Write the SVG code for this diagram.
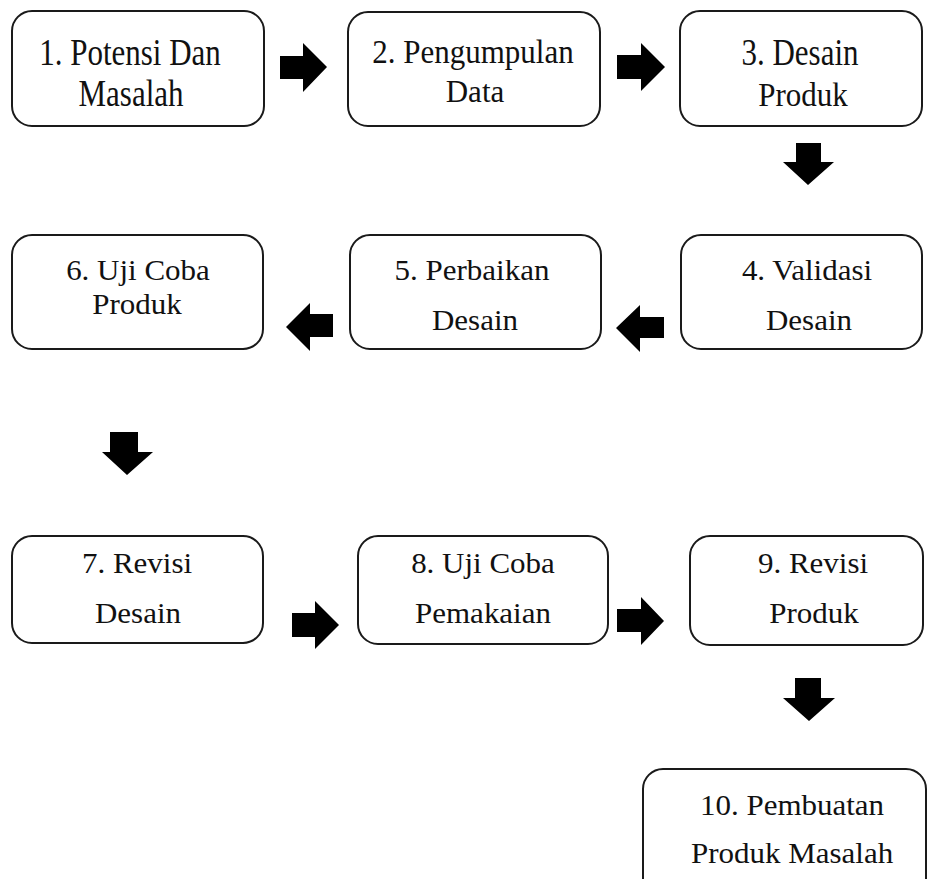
<svg xmlns="http://www.w3.org/2000/svg" width="934" height="879" viewBox="0 0 934 879">
<style>
.box{fill:#fff;stroke:#1a1a1a;stroke-width:2}
.t{font-family:"Liberation Serif","Times New Roman",serif;font-size:31px;fill:#111;text-anchor:middle}
.arr{fill:#000}
</style>
<rect width="934" height="879" fill="#fff"/>
<g id="connectors">
<polygon class="arr" points="280,56 303,56 303,43 327,67 303,92 303,79 280,79"/>
<polygon class="arr" points="617,55 641,55 641,43 665,67 641,91 641,79 617,79"/>
<polygon class="arr" points="796,143 821,143 821,162 834,162 808,185 783,162 796,162"/>
<polygon class="arr" points="664,317 640,317 640,305 616,328 640,352 640,338 664,338"/>
<polygon class="arr" points="333,314 310,314 310,303 286,327 310,351 310,337 333,337"/>
<polygon class="arr" points="110,432 138,432 138,452 153,452 127,475 102,452 110,452"/>
<polygon class="arr" points="292,613 315,613 315,601 339,625 315,649 315,637 292,637"/>
<polygon class="arr" points="617,609 641,609 641,597 664,621 641,645 641,632 617,632"/>
<polygon class="arr" points="795,678 821,678 821,698 835,698 809,721 783,698 795,698"/>
</g>
<g id="n1"><rect class="box" x="12" y="11" width="252" height="115" rx="20"/>
<text class="t" transform="translate(130,65) scale(1,1.2)">1. Potensi Dan</text>
<text class="t" transform="translate(131,106) scale(1,1.2)">Masalah</text></g>
<g id="n2"><rect class="box" x="348" y="12" width="252" height="114" rx="20"/>
<text class="t" transform="translate(473,63) scale(1,1.1)">2. Pengumpulan</text>
<text class="t" transform="translate(475,102)">Data</text></g>
<g id="n3"><rect class="box" x="680" y="11" width="242" height="115" rx="20"/>
<text class="t" transform="translate(800,65) scale(1,1.2)">3. Desain</text>
<text class="t" transform="translate(803,106) scale(1,1.1)">Produk</text></g>
<g id="n4"><rect class="box" x="681" y="235" width="241" height="114" rx="20"/>
<text class="t" transform="translate(807,280) scale(1,0.95)">4. Validasi</text>
<text class="t" transform="translate(809,330) scale(1,0.95)">Desain</text></g>
<g id="n5"><rect class="box" x="350" y="235" width="251" height="114" rx="20"/>
<text class="t" transform="translate(472,280) scale(1,0.95)">5. Perbaikan</text>
<text class="t" transform="translate(475,330) scale(1,0.95)">Desain</text></g>
<g id="n6"><rect class="box" x="12" y="235" width="251" height="114" rx="20"/>
<text class="t" transform="translate(138,280) scale(1,0.95)">6. Uji Coba</text>
<text class="t" transform="translate(137,314) scale(1,0.95)">Produk</text></g>
<g id="n7"><rect class="box" x="12" y="536" width="251" height="107" rx="20"/>
<text class="t" transform="translate(137,573) scale(1,0.95)">7. Revisi</text>
<text class="t" transform="translate(138,623) scale(1,0.95)">Desain</text></g>
<g id="n8"><rect class="box" x="358" y="536" width="250" height="108" rx="20"/>
<text class="t" transform="translate(483,573) scale(1,0.95)">8. Uji Coba</text>
<text class="t" transform="translate(483,623) scale(1,0.95)">Pemakaian</text></g>
<g id="n9"><rect class="box" x="690" y="536" width="233" height="109" rx="20"/>
<text class="t" transform="translate(813,573) scale(1,0.95)">9. Revisi</text>
<text class="t" transform="translate(814,623) scale(1,0.95)">Produk</text></g>
<g id="n10"><rect class="box" x="643" y="769" width="283" height="130" rx="20"/>
<text class="t" transform="translate(792,815) scale(1,0.95)">10. Pembuatan</text>
<text class="t" transform="translate(792,863) scale(1,0.95)">Produk Masalah</text></g>
</svg>
